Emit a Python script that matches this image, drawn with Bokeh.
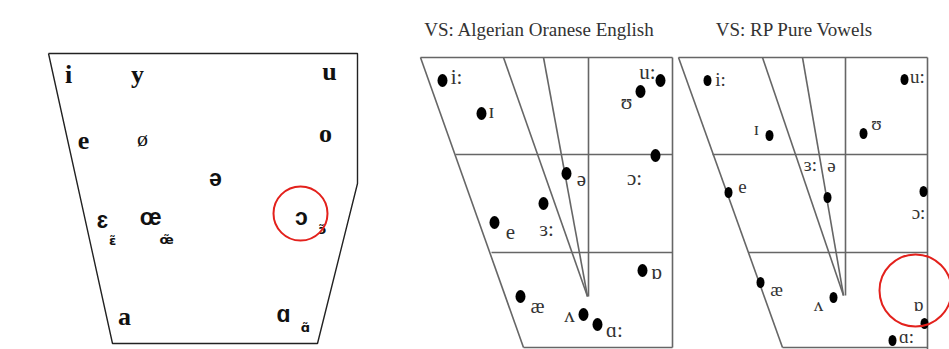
from bokeh.plotting import figure
from bokeh.models import Range1d
from bokeh.core.properties import value
from bokeh.embed import file_html
from bokeh.resources import INLINE

W, H = 949, 349
SERIF = "Liberation Serif"
SANS = "Liberation Sans"

# ---- Panel 1: French oral / nasal vowel trapezium ----
trap_x = [48, 357, 357, 317, 112, 48]
trap_y = [53, 53, 183, 343, 343, 53]

# roman-style symbols
fr_sym = ["i", "y", "u", "e", "o", "a"]
fr_x = [68, 137, 329, 83, 325, 124]
fr_y = [74, 74, 71, 140, 133, 316]

# IPA-specific symbols
fr_ipa_sym = ["ə", "ɛ", "œ", "ɔ", "ɑ"]
fr_ipa_x = [215, 102, 150, 301, 283]
fr_ipa_y = [177, 219, 216, 216, 313]

fr_round_sym = ["ø"]
fr_round_x = [142]
fr_round_y = [138]

fr_nasal_sym = ["ɛ̃", "œ̃", "ɔ̃", "ɑ̃"]
fr_nasal_x = [112, 166, 322, 305]
fr_nasal_y = [240, 239, 229, 327]

# highlighted vowel
hl1_x, hl1_y, hl1_r = [300], [213], [27]

# ---- Panel 2: Algerian Oranese English ----
t2 = "VS: Algerian Oranese English"
t2_x, t2_y = 539, 29
g2_lines = [
    ([420, 672], [57, 57]),        # top
    ([672, 672], [57, 347]),       # back
    ([420, 523], [57, 347]),       # front slant
    ([523, 672], [347, 347]),      # bottom
    ([455, 672], [154, 154]),      # close-mid
    ([491, 672], [252, 252]),      # open-mid
    ([588, 588], [57, 296]),       # central divider
    ([503, 587], [57, 296]),       # central wedge
    ([543, 587], [57, 296]),
]
v2_sym = ["i:", "ɪ", "u:", "ʊ", "ɔ:", "ə", "ɜ:", "e", "ɒ", "æ", "ʌ", "ɑ:"]
v2_dx = [442, 481, 660, 640, 655, 566, 543, 494, 642, 520, 583, 597]
v2_dy = [80, 113, 80, 91, 155, 173, 203, 222, 270, 296, 314, 324]
v2_lx = [456, 491, 647, 626, 634, 581, 546, 510, 656, 537, 569, 614]
v2_ly = [76, 110, 71, 101, 177, 178, 228, 231, 271, 305, 314, 329]

# ---- Panel 3: RP pure vowels ----
t3 = "VS: RP Pure Vowels"
t3_x, t3_y = 794, 29
g3_lines = [
    ([678, 927], [57, 57]),
    ([927, 927], [57, 349]),
    ([678, 782], [57, 347]),
    ([782, 927], [347, 347]),
    ([712, 927], [154, 154]),
    ([748, 927], [252, 252]),
    ([845, 845], [57, 295]),
    ([762, 843], [57, 295]),
    ([802, 843], [57, 295]),
]
v3_dot_x = [707, 904, 769, 863, 827, 728, 923, 760, 833, 924, 892]
v3_dot_y = [80, 79, 135, 133, 197, 192, 191, 282, 297, 323, 340]
v3_sym = ["i:", "u:", "ɪ", "ʊ", "ɜ:", "ə", "e", "ɔ:", "æ", "ʌ", "ɒ", "ɑ:"]
v3_lx = [720, 917, 756, 876, 810, 831, 742, 918, 776, 818, 918, 906]
v3_ly = [79, 76, 128, 123, 164, 165, 186, 212, 289, 304, 304, 336]

hl3_x, hl3_y, hl3_r = [915], [290], [36]

p = figure(width=W, height=H, output_backend="svg", toolbar_location=None,
           x_range=Range1d(0, W), y_range=Range1d(H, 0), min_border=0)
p.axis.visible = False
p.grid.visible = False
p.outline_line_color = None
p.background_fill_color = "white"

# panel 1
p.line(trap_x, trap_y, line_color="#222222", line_width=1.4)
p.text(fr_x, fr_y, text=fr_sym, text_font=value(SERIF), text_font_style="bold",
       text_font_size="26px", text_align="center", text_baseline="middle", text_color="#111111")
p.text(fr_ipa_x, fr_ipa_y, text=fr_ipa_sym, text_font=value(SANS), text_font_style="bold",
       text_font_size="23px", text_align="center", text_baseline="middle", text_color="#111111")
p.text(fr_round_x, fr_round_y, text=fr_round_sym, text_font=value(SERIF),
       text_font_size="22px", text_align="center", text_baseline="middle", text_color="#111111")
p.text(fr_nasal_x, fr_nasal_y, text=fr_nasal_sym, text_font=value("DejaVu Sans"), text_font_style="bold",
       text_font_size="13px", text_align="center", text_baseline="middle", text_color="#111111")
p.circle(hl1_x, hl1_y, radius=hl1_r, fill_color=None, line_color="#e3211c", line_width=2)

# panel 2
for xs, ys in g2_lines:
    p.line(xs, ys, line_color="#666666", line_width=1.6)
p.text([t2_x], [t2_y], text=[t2], text_font=value(SERIF), text_font_size="19px",
       text_align="center", text_baseline="middle", text_color="#333333")
p.ellipse(v2_dx, v2_dy, width=10, height=13, fill_color="black", line_color=None)
p.text(v2_lx, v2_ly, text=v2_sym, text_font=value(SERIF), text_font_size="21px",
       text_align="center", text_baseline="middle", text_color="#333333")

# panel 3
for xs, ys in g3_lines:
    p.line(xs, ys, line_color="#666666", line_width=1.6)
p.text([t3_x], [t3_y], text=[t3], text_font=value(SERIF), text_font_size="19px",
       text_align="center", text_baseline="middle", text_color="#333333")
p.ellipse(v3_dot_x, v3_dot_y, width=8, height=11, fill_color="black", line_color=None)
p.text(v3_lx, v3_ly, text=v3_sym, text_font=value(SERIF), text_font_size="19px",
       text_align="center", text_baseline="middle", text_color="#333333")
p.circle(hl3_x, hl3_y, radius=hl3_r, fill_color=None, line_color="#e3211c", line_width=2)

open("out.html", "w").write(file_html(p, INLINE))
